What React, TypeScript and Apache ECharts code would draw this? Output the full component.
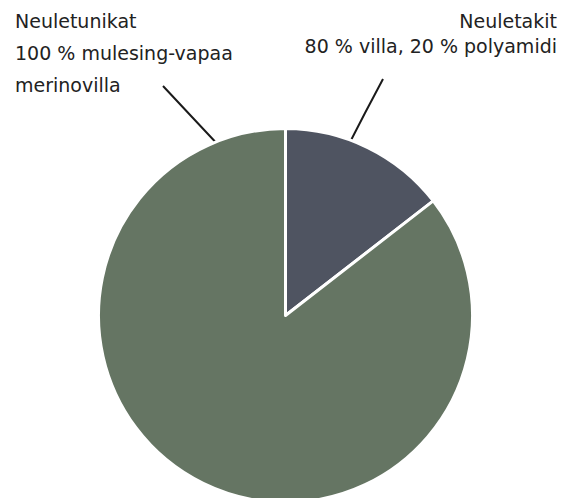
import React, { useEffect, useRef } from "react";
import * as echarts from "echarts";

const categories = ["Neuletakit", "Neuletunikat"];
const descriptions = ["80 % villa, 20 % polyamidi", "100 % mulesing-vapaa\nmerinovilla"];
const values = [14.5, 85.5];
const colors = ["#4f5461", "#657563"];

export default function App() {
  const ref = useRef<HTMLDivElement>(null);
  useEffect(() => {
    if (!ref.current) return;
    const chart = echarts.init(ref.current, null, { renderer: "svg" });
    const font = "'DejaVu Sans', sans-serif";
    chart.setOption({
      animation: false,
      backgroundColor: "#ffffff",
      series: [
        {
          type: "pie",
          center: [285.5, 315.5],
          radius: 187,
          startAngle: 90,
          clockwise: true,
          itemStyle: { borderColor: "#ffffff", borderWidth: 3 },
          label: {
            show: true,
            position: "outside",
            color: "#222222",
            fontFamily: font,
            fontSize: 19,
            overflow: "none",
            formatter: (p: any) => p.name + "\n" + descriptions[p.dataIndex],
          },
          labelLine: {
            show: true,
            lineStyle: { color: "#1a1a1a", width: 2 },
          },
          labelLayout: (p: any) => {
            if (p.dataIndex === 0) {
              return {
                x: 557,
                y: 8,
                align: "right",
                verticalAlign: "top",
                labelLinePoints: [
                  [383, 79],
                  [365, 113],
                  [347, 148],
                ],
              };
            }
            return {
              x: 15,
              y: 5,
              align: "left",
              verticalAlign: "top",
              labelLinePoints: [
                [163, 86],
                [192, 117],
                [222, 149],
              ],
            };
          },
          data: categories.map((name, i) => ({
            name,
            value: values[i],
            itemStyle: { color: colors[i] },
            label: { lineHeight: i === 0 ? 25 : 32 },
          })),
        },
      ],
    });
    return () => chart.dispose();
  }, []);
  return (
    <div
      ref={ref}
      style={{ position: "absolute", left: 0, top: 0, width: 574, height: 498 }}
    />
  );
}
